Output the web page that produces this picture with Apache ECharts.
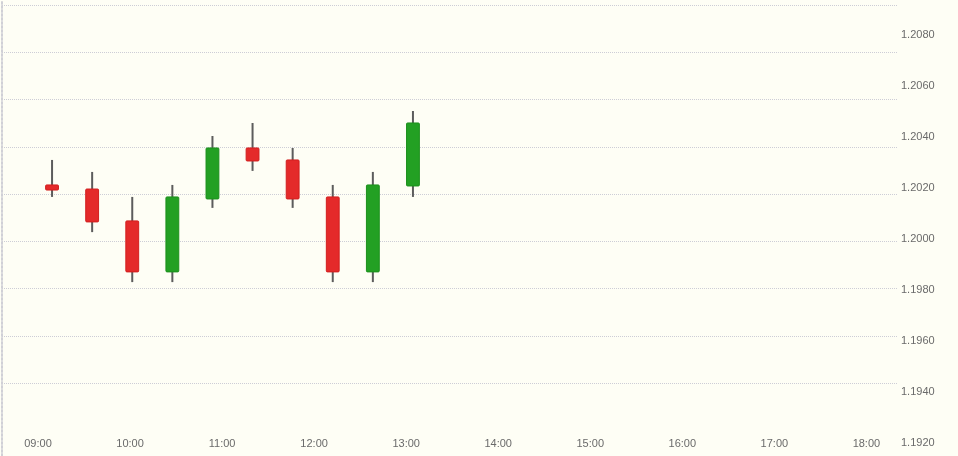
<!DOCTYPE html>
<html>
<head>
<meta charset="utf-8">
<script src="https://cdn.jsdelivr.net/npm/echarts@6/dist/echarts.min.js"></script>
<style>
html,body{margin:0;padding:0;background:#fefef5;}
#chart{width:958px;height:456px;}
</style>
</head>
<body>
<div id="chart"></div>
<script>
// Candle categories (hidden) and OHLC values
const candleTimes = ['09:09','09:35','10:01','10:27','10:53','11:19','11:46','12:12','12:38','13:04'];
const opens  = [1.20212, 1.20196, 1.20071, 1.19871, 1.20157, 1.20357, 1.20310, 1.20165, 1.19871, 1.20208];
const closes = [1.20192, 1.20067, 1.19871, 1.20165, 1.20357, 1.20306, 1.20157, 1.19871, 1.20212, 1.20455];
const lows   = [1.20165, 1.20027, 1.19831, 1.19831, 1.20122, 1.20267, 1.20122, 1.19831, 1.19831, 1.20165];
const highs  = [1.20310, 1.20263, 1.20165, 1.20212, 1.20404, 1.20455, 1.20357, 1.20212, 1.20263, 1.20502];
// Axis tick labels
const timeLabels = ['09:00','10:00','11:00','12:00','13:00','14:00','15:00','16:00','17:00','18:00'];
const priceMin = 1.1920, priceMax = 1.2080, priceStep = 0.0020;

const ohlc = candleTimes.map((t, i) => [i, opens[i], closes[i], lows[i], highs[i]]);

const chart = echarts.init(document.getElementById('chart'), null, {renderer: 'canvas'});
const labelFont = {fontFamily: '"Liberation Sans", Arial, sans-serif', fontSize: 11, color: '#6a6a6a'};
const gridLineColor = '#cdcdd6';

function renderCandle(params, api) {
  const x = api.value(0);
  const o = api.value(1), c = api.value(2), l = api.value(3), h = api.value(4);
  const pO = api.coord([x, o]), pC = api.coord([x, c]);
  const pL = api.coord([x, l]), pH = api.coord([x, h]);
  const w = api.size([1, 0])[0] * 0.32;
  const up = c >= o;
  return {
    type: 'group',
    children: [
      {type: 'line', shape: {x1: pH[0], y1: pH[1], x2: pL[0], y2: pL[1]},
       style: {stroke: '#5c5c5c', lineWidth: 2}},
      {type: 'rect', shape: {x: pO[0] - w / 2, y: Math.min(pO[1], pC[1]), width: w,
        height: Math.max(Math.abs(pO[1] - pC[1]), 1), r: 1},
       style: {fill: up ? '#23a023' : '#e42a2a', stroke: up ? '#1c8f1c' : '#d21f1f', lineWidth: 1}}
    ]
  };
}

const option = {
  backgroundColor: '#fefef5',
  animation: false,
  grid: [
    {left: 32, width: 401, top: 35, height: 408},          // 0 candles
    {left: 2, right: 60, top: 35, height: 408},            // 1 price labels
    {left: 38, width: 828.4, top: 0, height: 436},         // 2 time labels
    {left: 2, right: 61, top: 5, height: 378},             // 3 grid lines
    {left: 2, right: 0, top: 1, bottom: 0}                 // 4 frame
  ],
  xAxis: [
    {gridIndex: 0, type: 'category', data: candleTimes, boundaryGap: true, show: false},
    {gridIndex: 1, type: 'value', min: 0, max: 1, show: false},
    {gridIndex: 2, type: 'category', data: timeLabels, boundaryGap: false,
     axisLine: {show: false}, axisTick: {show: false}, splitLine: {show: false},
     axisLabel: Object.assign({interval: 0, margin: 2}, labelFont)},
    {gridIndex: 3, type: 'value', min: 0, max: 1, show: false},
    {gridIndex: 4, type: 'value', min: 0, max: 1, position: 'top',
     axisLine: {show: true, lineStyle: {color: '#d0d0d6', type: 'dotted', width: 1}},
     axisTick: {show: false}, axisLabel: {show: false}, splitLine: {show: false}}
  ],
  yAxis: [
    {gridIndex: 0, type: 'value', min: priceMin, max: priceMax, show: false},
    {gridIndex: 1, type: 'value', min: priceMin, max: priceMax, interval: priceStep, position: 'right',
     axisLine: {show: false}, axisTick: {show: false}, splitLine: {show: false},
     axisLabel: Object.assign({margin: 3, formatter: v => v.toFixed(4)}, labelFont)},
    {gridIndex: 2, type: 'value', min: 0, max: 1, show: false},
    {gridIndex: 3, type: 'value', min: 0, max: 8, interval: 1, inverse: true,
     axisLine: {show: false}, axisTick: {show: false}, axisLabel: {show: false},
     splitLine: {show: true, lineStyle: {color: gridLineColor, type: 'dotted', width: 1}}},
    {gridIndex: 4, type: 'value', min: 0, max: 1, position: 'left',
     axisLine: {show: true, lineStyle: {color: '#d0d0d6', type: 'dotted', width: 2}},
     axisTick: {show: false}, axisLabel: {show: false}, splitLine: {show: false}}
  ],
  series: [
    {type: 'custom', xAxisIndex: 0, yAxisIndex: 0, renderItem: renderCandle,
     data: ohlc, encode: {x: 0, y: [1, 2, 3, 4]}, clip: true}
  ]
};
chart.setOption(option);
</script>
</body>
</html>
